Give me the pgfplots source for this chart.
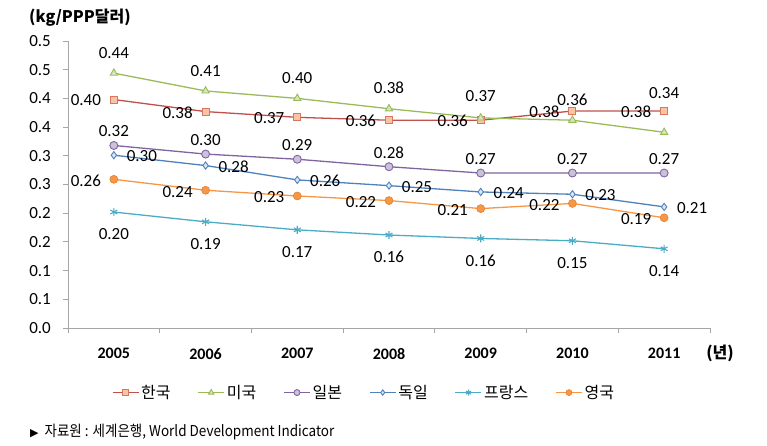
\documentclass[border=0pt]{standalone}
\usepackage{pgfplots}
\pgfplotsset{compat=1.18}
\usepackage{graphicx}
\usepackage{fontspec}
\setmainfont{Carlito}
\newfontfamily\cjk{Noto Sans CJK KR}
\newfontfamily\dejavu{DejaVu Sans}
\definecolor{krL}{HTML}{C0504D}
\definecolor{krF}{HTML}{F9C3A5}
\definecolor{krD}{HTML}{D8775C}
\definecolor{usL}{HTML}{9BBB59}
\definecolor{usF}{HTML}{D7E4BD}
\definecolor{jpL}{HTML}{8064A2}
\definecolor{jpF}{HTML}{CCC1DA}
\definecolor{deL}{HTML}{4F81BD}
\definecolor{deF}{HTML}{DCE6F2}
\definecolor{frL}{HTML}{4BACC6}
\definecolor{ukL}{HTML}{F79646}
\definecolor{ukD}{HTML}{E3802F}
\definecolor{axgray}{HTML}{A6A6A6}
\begin{document}
\begin{tikzpicture}
\useasboundingbox (-68pt,-118pt) rectangle (699pt,328pt);
\begin{axis}[
  scale only axis,
  width=642pt, height=287pt,
  xmin=-0.5, xmax=6.5, ymin=0, ymax=0.5,
  axis x line=bottom, axis y line=left,
  axis line style={draw=axgray, line width=0.8pt, -},
  xtick={0,...,6},
  xticklabels={2005,2006,2007,2008,2009,2010,2011},
  minor xtick={-0.5,0.5,1.5,2.5,3.5,4.5,5.5,6.5},
  ytick={0,0.05,0.1,0.15,0.2,0.25,0.3,0.35,0.4,0.45,0.5},
  yticklabels={0.0,0.1,0.1,0.2,0.2,0.3,0.3,0.4,0.4,0.5,0.5},
  tick align=outside,
  major tick length=5pt, minor tick length=5pt,
  major x tick style={draw=none},
  every tick/.style={draw=axgray, line width=0.8pt},
  minor x tick style={draw=axgray, line width=0.8pt},
  /pgf/number format/assume math mode=true,
  xticklabel style={font=\bfseries\fontsize{16}{18}\selectfont, anchor=north, inner sep=0pt, yshift=-15pt},
  yticklabel style={font=\fontsize{17}{19}\selectfont, anchor=east, inner sep=0pt, xshift=-12pt},
  clip=false,
  point meta=explicit symbolic,
  nodes near coords,
  legend columns=6,
  legend style={draw=none, fill=none, at={(0.068,-0.225)}, anchor=west,
    font=\cjk\fontsize{16}{18}\selectfont,
    /tikz/every even column/.append style={column sep=25pt},
    inner sep=0pt},
  legend image code/.code={\draw[mark repeat=2,mark phase=2, every mark/.append style={scale=0.75}] plot coordinates {(0pt,0pt) (13pt,0pt) (26pt,0pt)};},
]
\addplot[krL, line width=1.3pt, mark=square*, mark size=3.5pt,
  mark options={fill=krF, draw=krD, line width=0.9pt},
  every node near coord/.append style={anchor=center, inner sep=0pt, xshift=-28pt, yshift=-1pt, text=black, font=\fontsize{17}{19}\selectfont}]
  table[meta=label] {
x y label
0 0.398 0.40
1 0.377 0.38
2 0.367 0.37
3 0.362 0.36
4 0.362 0.36
5 0.378 0.38
6 0.378 0.38
};
\addlegendentry{한국}
\addplot[usL, line width=1.3pt, mark=triangle*, mark size=4.2pt,
  mark options={fill=usF, draw=usL, line width=0.9pt},
  visualization depends on={value \thisrow{dy} \as \dy},
  every node near coord/.append style={anchor=center, inner sep=0pt, yshift=\dy pt, text=black, font=\fontsize{17}{19}\selectfont}]
  table[meta=label] {
x y label dy
0 0.444 0.44 20
1 0.413 0.41 20
2 0.400 0.40 20
3 0.382 0.38 21
4 0.366 0.37 22
5 0.362 0.36 20
6 0.341 0.34 39
};
\addlegendentry{미국}
\addplot[jpL, line width=1.3pt, mark=*, mark size=4pt,
  mark options={fill=jpF, draw=jpL, line width=0.9pt},
  every node near coord/.append style={anchor=center, inner sep=0pt, yshift=14pt, text=black, font=\fontsize{17}{19}\selectfont}]
  table[meta=label] {
x y label
0 0.318 0.32
1 0.303 0.30
2 0.294 0.29
3 0.281 0.28
4 0.270 0.27
5 0.270 0.27
6 0.270 0.27
};
\addlegendentry{일본}
\addplot[deL, line width=1.3pt, mark=diamond*, mark size=3.6pt,
  mark options={fill=deF, draw=deL, line width=0.9pt},
  every node near coord/.append style={anchor=center, inner sep=0pt, xshift=28pt, yshift=-1pt, text=black, font=\fontsize{17}{19}\selectfont}]
  table[meta=label] {
x y label
0 0.301 0.30
1 0.283 0.28
2 0.258 0.26
3 0.248 0.25
4 0.237 0.24
5 0.233 0.23
6 0.211 0.21
};
\addlegendentry{독일}
\addplot[frL, line width=1.3pt, mark=asterisk, mark size=4pt,
  mark options={draw=frL, line width=1.1pt},
  every node near coord/.append style={anchor=center, inner sep=0pt, yshift=-22pt, text=black, font=\fontsize{17}{19}\selectfont}]
  table[meta=label] {
x y label
0 0.202 0.20
1 0.185 0.19
2 0.171 0.17
3 0.162 0.16
4 0.156 0.16
5 0.152 0.15
6 0.138 0.14
};
\addlegendentry{프랑스}
\addplot[ukL, line width=1.3pt, mark=*, mark size=4pt,
  mark options={fill=ukL, draw=ukD, line width=0.6pt},
  every node near coord/.append style={anchor=center, inner sep=0pt, xshift=-28pt, yshift=-1.5pt, text=black, font=\fontsize{17}{19}\selectfont}]
  table[meta=label] {
x y label
0 0.259 0.26
1 0.240 0.24
2 0.230 0.23
3 0.222 0.22
4 0.208 0.21
5 0.217 0.22
6 0.192 0.19
};
\addlegendentry{영국}
\end{axis}
\node[anchor=center, font=\cjk\bfseries\fontsize{16}{18}\selectfont, inner sep=0pt] at (12pt,310pt) {(kg/PPP달러)};
\node[anchor=center, font=\cjk\bfseries\fontsize{16}{18}\selectfont, inner sep=0pt] at (652pt,-25pt) {(년)};
\node[anchor=west, inner sep=0pt] at (-38pt,-104pt) {{\dejavu\fontsize{11}{12}\selectfont ▶}\hspace{6pt}\scalebox{0.9}[1]{\cjk\fontsize{15}{17}\selectfont 자료원 : 세계은행, World Development Indicator}};
\end{tikzpicture}
\end{document}
